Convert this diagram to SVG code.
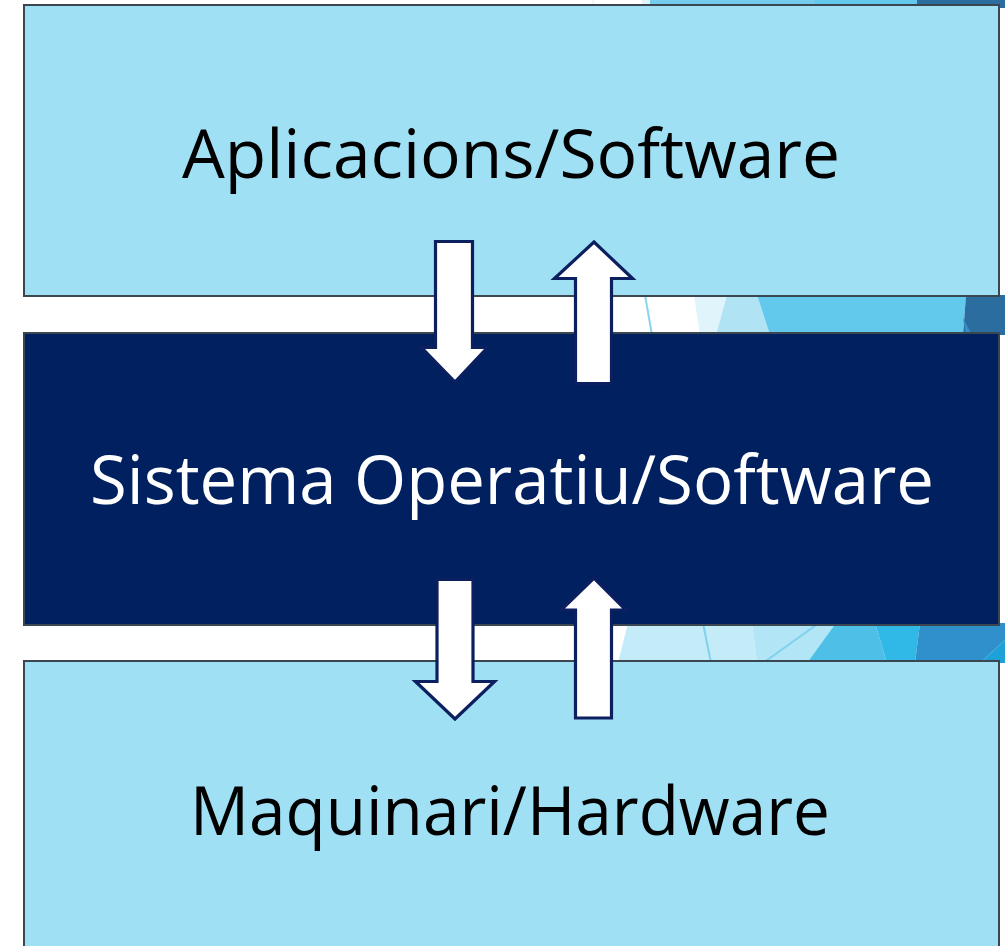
<svg xmlns="http://www.w3.org/2000/svg" width="1005" height="946" viewBox="0 0 1005 946">
  <style>
    .box-light { fill: #a0e0f4; stroke: #3b4750; stroke-width: 2; }
    .box-dark { fill: #002060; stroke: #3b4750; stroke-width: 2; }
    .lbl { font-family: "Open Sans", "DejaVu Sans", sans-serif; font-size: 68px; text-anchor: middle; }
    .arrow { fill: #ffffff; stroke: #0c1f5e; stroke-width: 3.2; stroke-linejoin: miter; }
  </style>
  <rect x="0" y="0" width="1005" height="946" fill="#ffffff"/>
  <g id="background">
    <!-- top strip -->
    <line x1="593" y1="0" x2="594" y2="8" stroke="#d8f0fa" stroke-width="1"/>
    <polygon points="642,0 650,0 650,8 642,8" fill="#e0f4fb"/>
    <polygon points="650,0 815,0 815,8 650,8" fill="#74ccec"/>
    <polygon points="815,0 917,0 917,8 815,8" fill="#62c8ec"/>
    <polygon points="917,0 1005,0 1005,8 917,8" fill="#2a6d9e"/>
    <!-- gap 1 -->
    <polygon points="694,295 727,295 716,335 700,335" fill="#e0f4fb"/>
    <polygon points="727,295 757,295 770,335 716,335" fill="#b0e4f5"/>
    <polygon points="757,295 966,295 963,335 770,335" fill="#62c8ec"/>
    <polygon points="966,295 1005,295 1005,335 963,335" fill="#2a6d9e"/>
    <polygon points="963,318 966,335 972,335" fill="#3a8cc4"/>
    <line x1="645" y1="295" x2="652" y2="335" stroke="#8ad6f0" stroke-width="2"/>
    <!-- gap 2 -->
    <polygon points="628,623 752,623 757,663 618,663" fill="#c4ebf8"/>
    <polygon points="752,623 836,623 807,663 757,663" fill="#b2e5f6"/>
    <polygon points="836,623 875,623 887,663 807,663" fill="#4ec0e8"/>
    <polygon points="875,623 920,623 915,663 887,663" fill="#30b8e6"/>
    <polygon points="920,623 1005,623 1005,640 980,663 915,663" fill="#3090cc"/>
    <polygon points="1005,640 1005,663 980,663" fill="#1ea0d8"/>
    <line x1="703" y1="623" x2="711" y2="663" stroke="#7ed2f0" stroke-width="2"/>
    <line x1="819" y1="623" x2="763" y2="663" stroke="#7ed2f0" stroke-width="2"/>
  </g>
  <g id="node-aplicacions">
    <rect class="box-light" x="24" y="5" width="975" height="291"/>
    <text class="lbl" x="511" y="178" fill="#000000" textLength="658" lengthAdjust="spacingAndGlyphs">Aplicacions/Software</text>
  </g>
  <g id="node-sistema">
    <rect class="box-dark" x="24" y="333" width="975" height="292"/>
    <text class="lbl" x="512" y="504" fill="#ffffff" textLength="844" lengthAdjust="spacingAndGlyphs">Sistema Operatiu/Software</text>
  </g>
  <g id="node-maquinari">
    <rect class="box-light" x="24" y="661" width="975" height="300"/>
    <text class="lbl" x="510" y="835" fill="#000000" textLength="640" lengthAdjust="spacingAndGlyphs">Maquinari/Hardware</text>
  </g>
  <g id="connectors">
    <polygon class="arrow" points="435.5,241.5 472.5,241.5 472.5,347.5 487.5,347.5 455,382 421.5,347.5 435.5,347.5"/>
    <polygon class="arrow" points="594,242 632.5,278.5 611.5,278.5 611.5,383.5 575.5,383.5 575.5,278.5 554.5,278.5"/>
    <polygon class="arrow" points="437,579.5 473,579.5 473,681.5 494.5,681.5 455,719 415.5,681.5 437,681.5"/>
    <polygon class="arrow" points="594,578 626,610 611.5,610 611.5,718 575.5,718 575.5,610 561,610"/>
  </g>
</svg>
